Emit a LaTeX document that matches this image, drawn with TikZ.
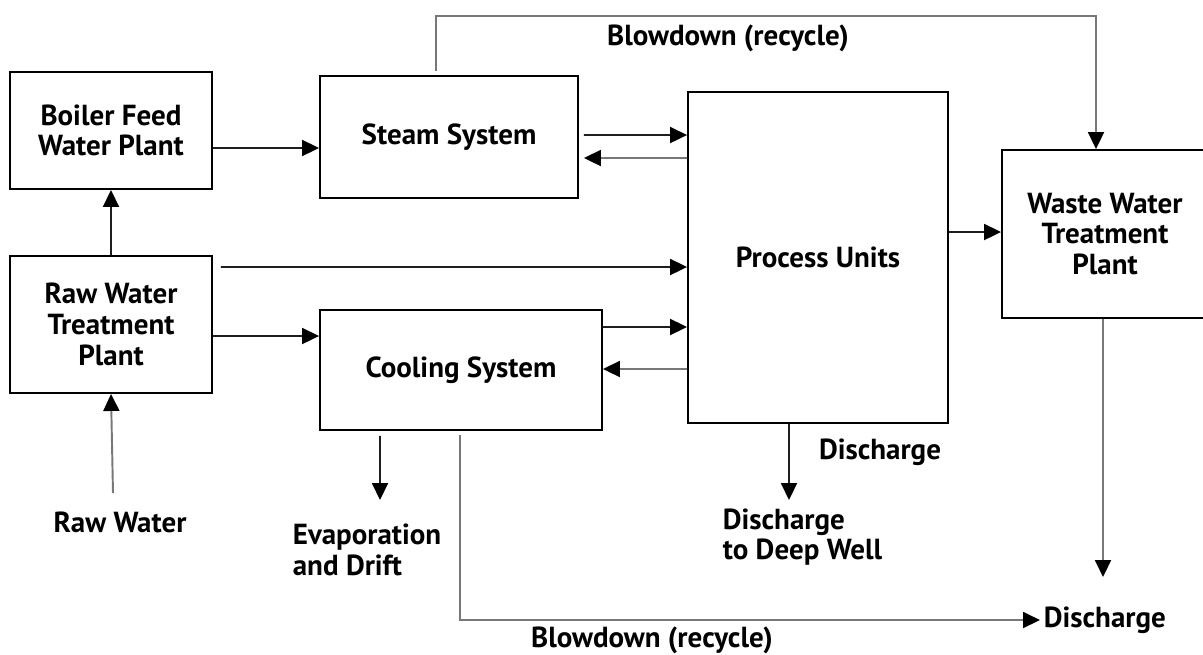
\documentclass[tikz,border=0pt]{standalone}
\usepackage{fontspec}
\setmainfont{PT Sans}
\usepackage{tikz}
\usetikzlibrary{positioning,arrows.meta,calc}
\definecolor{linedark}{RGB}{30,30,30}
\definecolor{linelight}{RGB}{120,120,120}

\begin{document}
\begin{tikzpicture}[
  x=0.02cm, y=-0.02cm,
  box/.style={draw, line width=1.1pt, align=center, font=\fontsize{16.5}{17.5}\selectfont\bfseries},
  arr/.style={-{Triangle[length=0.34cm, width=0.32cm, color=black]}, line width=1.1pt, linedark},
  garr/.style={arr, linelight},
  lbl/.style={font=\fontsize{16.5}{17.5}\selectfont\bfseries, align=left, inner sep=2pt},
]
\useasboundingbox (0,0) rectangle (1203,654);
% Boxes
\node[box, minimum width=4.04cm, minimum height=2.34cm] (boiler) at (111,130.5) {Boiler Feed\\Water Plant};
\node[box, minimum width=4.04cm, minimum height=2.74cm] (raw) at (111,324.5) {Raw Water\\Treatment\\Plant};
\node[box, minimum width=5.16cm, minimum height=2.44cm] (steam) at (449,137) {Steam System};
\node[box, minimum width=5.64cm, minimum height=2.40cm] (cooling) at (461,370) {Cooling System};
\node[box, minimum width=5.20cm, minimum height=6.62cm] (process) at (818,257.5) {Process Units};
\node[box, minimum width=4.12cm, minimum height=3.36cm] (wwtp) at (1105,234) {Waste Water\\Treatment\\Plant};
% Labels
\node[lbl] (rawlbl) at (120,522) {Raw Water};
\node[lbl, anchor=west] (evaplbl) at (289,550) {Evaporation\\and Drift};
\node[lbl] (dislbl) at (880,452) {Discharge};
\node[lbl, anchor=west] (deeplbl) at (719,537) {Discharge\\to Deep Well};
\node[lbl, anchor=west] (outlbl) at (1040,620) {Discharge};
\node[lbl] (bdtoplbl) at (728,38) {Blowdown (recycle)};
\node[lbl] (bdbotlbl) at (652,640) {Blowdown (recycle)};
% Free ends
\coordinate (rawsrc) at (113,493);
\coordinate (evapend) at (380,500);
\coordinate (deepend) at (789,500);
\coordinate (wwtpend) at (1103,577);
\coordinate (bdtop) at (1096,16);
% Connectors
\draw[arr] (raw.north) -- (boiler.south);
\draw[garr] (rawsrc) -- (raw.south);
\draw[arr] ([yshift=-0.35cm]boiler.east) -- ([yshift=-0.22cm]steam.west);
\draw[arr] ([xshift=0.16cm, yshift=1.15cm]raw.east) -- ([yshift=-0.19cm]process.west);
\draw[arr] ([yshift=-0.23cm]raw.east) -- ([yshift=0.68cm]cooling.west);
\draw[arr] ([xshift=0.1cm, yshift=0.04cm]steam.east) -- ([yshift=2.45cm]process.west);
\draw[garr] ([yshift=1.99cm]process.west) -- ([xshift=0.1cm, yshift=-0.42cm]steam.east);
\draw[arr] ([yshift=0.86cm]cooling.east) -- ([yshift=-1.39cm]process.west);
\draw[garr] ([yshift=-2.23cm]process.west) -- ([yshift=0.02cm]cooling.east);
\draw[arr] ([yshift=0.51cm]process.east) -- ([yshift=0.04cm]wwtp.west);
\draw[garr] ([xshift=-0.26cm, yshift=0.08cm]steam.north) |- (bdtop) -- (bdtop |- wwtp.north);
\draw[arr] ([xshift=-1.62cm, yshift=-0.1cm]cooling.south) -- (evapend);
\draw[garr] ([xshift=-0.02cm, yshift=-0.08cm]cooling.south) |- (outlbl.west);
\draw[arr] ([xshift=-0.58cm]process.south) -- (deepend);
\draw[garr] (wwtpend |- wwtp.south) -- (wwtpend);
\end{tikzpicture}
\end{document}
